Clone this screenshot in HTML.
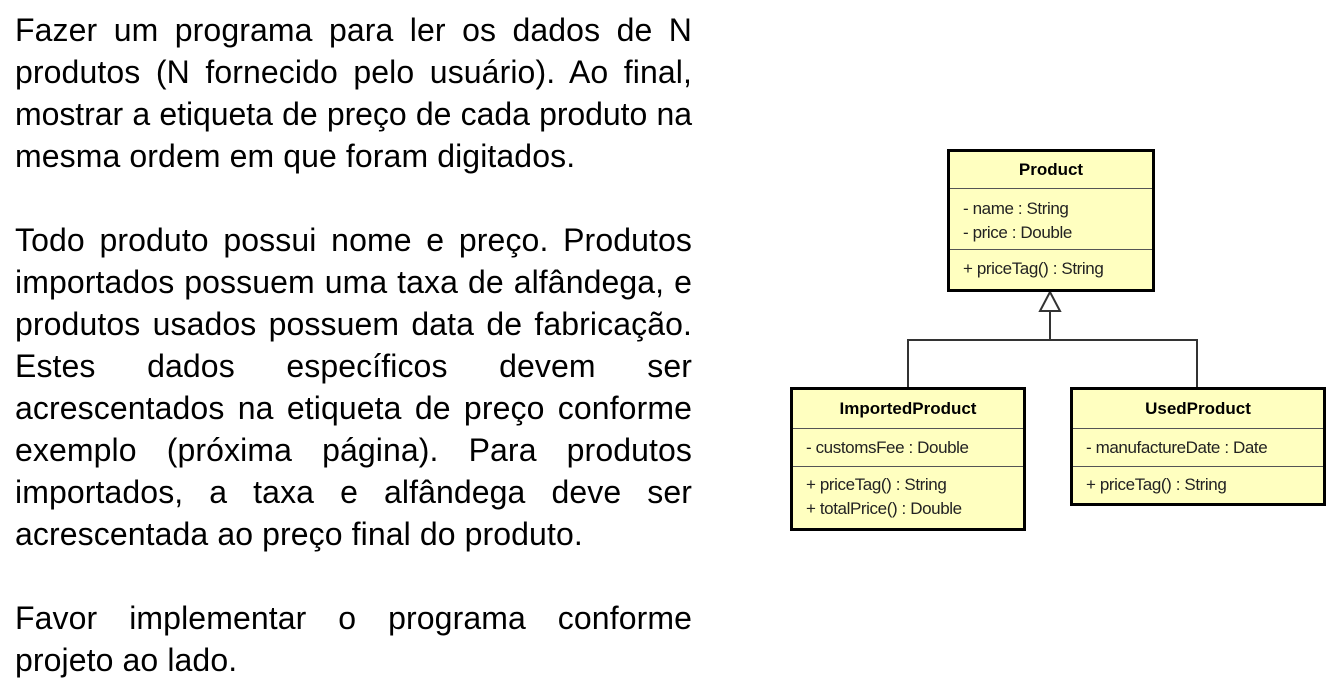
<!DOCTYPE html>
<html><head><meta charset="utf-8"><style>
body{margin:0;width:1343px;height:684px;background:#fff;position:relative;overflow:hidden;font-family:"Liberation Sans",sans-serif}
.t{position:absolute;left:15px;width:677px;font-size:32px;line-height:42px;height:42px;color:#000;white-space:nowrap;letter-spacing:0.1px}
.j{text-align:justify;text-align-last:justify}
.b{position:absolute;background:#ffffc0;border:3px solid #000;box-sizing:border-box}
.h{font-weight:bold;font-size:17px;text-align:center;border-bottom:1.5px solid #555}
.s{font-size:17px;padding-left:13px;color:#222;line-height:24px;letter-spacing:-0.4px}
.d{border-bottom:1.5px solid #555}
</style></head><body>
<div class="t j" style="top:9px">Fazer um programa para ler os dados de N</div>
<div class="t j" style="top:51px">produtos (N fornecido pelo usuário). Ao final,</div>
<div class="t j" style="top:93px;letter-spacing:-0.05px;word-spacing:-1px">mostrar a etiqueta de preço de cada produto na</div>
<div class="t" style="top:135px">mesma ordem em que foram digitados.</div>
<div class="t j" style="top:219px">Todo produto possui nome e preço. Produtos</div>
<div class="t j" style="top:261px">importados possuem uma taxa de alfândega, e</div>
<div class="t j" style="top:303px">produtos usados possuem data de fabricação.</div>
<div class="t j" style="top:345px">Estes dados específicos devem ser</div>
<div class="t j" style="top:387px">acrescentados na etiqueta de preço conforme</div>
<div class="t j" style="top:429px">exemplo (próxima página). Para produtos</div>
<div class="t j" style="top:471px">importados, a taxa e alfândega deve ser</div>
<div class="t" style="top:513px">acrescentada ao preço final do produto.</div>
<div class="t j" style="top:597px">Favor implementar o programa conforme</div>
<div class="t" style="top:639px">projeto ao lado.</div>

<svg style="position:absolute;left:0;top:0" width="1343" height="684">
<polyline points="908,388 908,340 1197,340 1197,388" fill="none" stroke="#333" stroke-width="2"/>
<line x1="1050" y1="340" x2="1050" y2="311" stroke="#333" stroke-width="2"/>
<polygon points="1050,292 1040,311 1060,311" fill="#fff" stroke="#333" stroke-width="2"/>
</svg>

<div class="b" style="left:947px;top:149px;width:208px;height:143px">
<div class="h" style="height:36px;line-height:36px">Product</div>
<div class="d" style="height:61px;padding-top:8px;box-sizing:border-box"><div class="s">- name : String</div><div class="s">- price : Double</div></div>
<div class="s" style="padding-top:7px">+ priceTag() : String</div>
</div>

<div class="b" style="left:790px;top:387px;width:236px;height:144px">
<div class="h" style="height:38px;line-height:38px">ImportedProduct</div>
<div class="d s" style="height:37px;line-height:37px;padding-left:13px">- customsFee : Double</div>
<div style="padding-top:6px"><div class="s">+ priceTag() : String</div><div class="s">+ totalPrice() : Double</div></div>
</div>

<div class="b" style="left:1070px;top:387px;width:256px;height:119px">
<div class="h" style="height:38px;line-height:38px">UsedProduct</div>
<div class="d s" style="height:37px;line-height:37px;padding-left:13px">- manufactureDate : Date</div>
<div style="padding-top:6px"><div class="s">+ priceTag() : String</div></div>
</div>
</body></html>
